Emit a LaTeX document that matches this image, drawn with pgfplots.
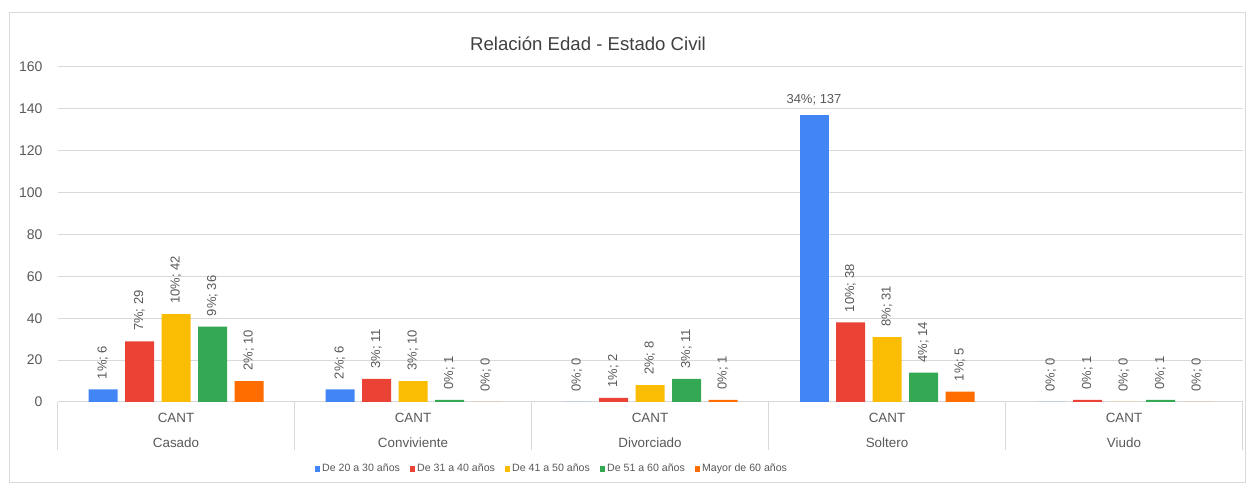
\documentclass[border=0pt]{standalone}
\usepackage{pgfplots}
\pgfplotsset{compat=1.18}
\usepackage{fontspec}
\setmainfont{Liberation Sans}
\definecolor{cblue}{HTML}{4285F4}
\definecolor{cred}{HTML}{EA4335}
\definecolor{cyellow}{HTML}{FBBC04}
\definecolor{cgreen}{HTML}{34A853}
\definecolor{corange}{HTML}{FF6D01}
\definecolor{txt}{HTML}{595959}
\definecolor{gridc}{HTML}{D9D9D9}
\protected\def\pc{\%}
\protected\def\sc{;}
\pgfplotsset{
  sqleg/.style={legend image code/.code={\fill[##1] (0pt,-1.3pt) rectangle (2.6pt,1.3pt);}},
  vlbl/.style={nodes near coords, point meta=explicit symbolic,
    nodes near coords align={anchor=west},
    every node near coord/.append style={rotate=90, inner xsep=5pt, inner ysep=0pt,
      font=\fontsize{6.5}{7.5}\selectfont, text=txt}},
  hlbl/.style={nodes near coords, point meta=explicit symbolic,
    nodes near coords align={anchor=south},
    every node near coord/.append style={inner ysep=5pt, inner xsep=0pt,
      font=\fontsize{6.5}{7.5}\selectfont, text=txt}},
}
\begin{document}
\begin{tikzpicture}
\useasboundingbox (-28.75pt,-42pt) rectangle (596.25pt,201pt);
\draw[gridc, line width=0.5pt] (-24.25pt,-40.5pt) rectangle (593.75pt,194.5pt);
\begin{axis}[
  at={(0,0)}, anchor=south west,
  scale only axis, width=592.5pt, height=167.5pt,
  ybar, bar width=14.5pt,
  xmin=-0.5, xmax=4.5, ymin=0, ymax=160,
  ytick={0,20,...,160},
  xtick={0,1,2,3,4},
  xticklabels={{CANT\\Casado},{CANT\\Conviviente},{CANT\\Divorciado},{CANT\\Soltero},{CANT\\Viudo}},
  xticklabel style={align=center, anchor=north, inner sep=0pt, yshift=-5.5pt,
    font=\fontsize{6.7}{12.5}\selectfont, text=txt},
  yticklabel style={font=\fontsize{7}{8}\selectfont, text=txt, xshift=-4pt},
  /pgf/number format/assume math mode=true,
  major tick length=0pt,
  xtick pos=bottom, ytick pos=left,
  axis line style={draw=none},
  ymajorgrids, grid style={gridc, line width=0.5pt},
  extra x ticks={-0.5,0.5,1.5,2.5,3.5,4.5},
  extra x tick labels={},
  extra x tick style={major tick length=24pt, tick align=outside, grid=none,
    tick style={draw=gridc, line width=0.5pt}},
  clip=false,
  title={Relación Edad - Estado Civil},
  title style={at={(axis description cs:0.4477,1.0329)}, anchor=center,
    font=\fontsize{9.3}{11}\selectfont, text=black!75},
  legend columns=5,
  legend style={at={(axis description cs:0.4173,-0.2)}, anchor=center, draw=none,
    font=\fontsize{5.3}{6}\selectfont, text=txt,
    nodes={inner xsep=1pt, inner ysep=0.5pt},
    /tikz/every even column/.append style={column sep=4pt}},
]
\addplot[fill=cblue, draw=none, bar shift=-36.5pt, sqleg, vlbl] coordinates
  {(0,6) [1\pc\sc{} 6] (1,6) [2\pc\sc{} 6] (2,0) [0\pc\sc{} 0] (4,0) [0\pc\sc{} 0]};
\addlegendentry{De 20 a 30 años}
\addplot[fill=cred, draw=none, bar shift=-18.25pt, sqleg, vlbl] coordinates
  {(0,29) [7\pc\sc{} 29] (1,11) [3\pc\sc{} 11] (2,2) [1\pc\sc{} 2] (3,38) [10\pc\sc{} 38] (4,1) [0\pc\sc{} 1]};
\addlegendentry{De 31 a 40 años}
\addplot[fill=cyellow, draw=none, bar shift=0pt, sqleg, vlbl] coordinates
  {(0,42) [10\pc\sc{} 42] (1,10) [3\pc\sc{} 10] (2,8) [2\pc\sc{} 8] (3,31) [8\pc\sc{} 31] (4,0) [0\pc\sc{} 0]};
\addlegendentry{De 41 a 50 años}
\addplot[fill=cgreen, draw=none, bar shift=18.25pt, sqleg, vlbl] coordinates
  {(0,36) [9\pc\sc{} 36] (1,1) [0\pc\sc{} 1] (2,11) [3\pc\sc{} 11] (3,14) [4\pc\sc{} 14] (4,1) [0\pc\sc{} 1]};
\addlegendentry{De 51 a 60 años}
\addplot[fill=corange, draw=none, bar shift=36.5pt, sqleg, vlbl] coordinates
  {(0,10) [2\pc\sc{} 10] (1,0) [0\pc\sc{} 0] (2,1) [0\pc\sc{} 1] (3,5) [1\pc\sc{} 5] (4,0) [0\pc\sc{} 0]};
\addlegendentry{Mayor de 60 años}
\addplot[fill=cblue, draw=none, bar shift=-36.5pt, forget plot, hlbl] coordinates
  {(3,137) [34\pc\sc{} 137]};
\end{axis}
\end{tikzpicture}
\end{document}
